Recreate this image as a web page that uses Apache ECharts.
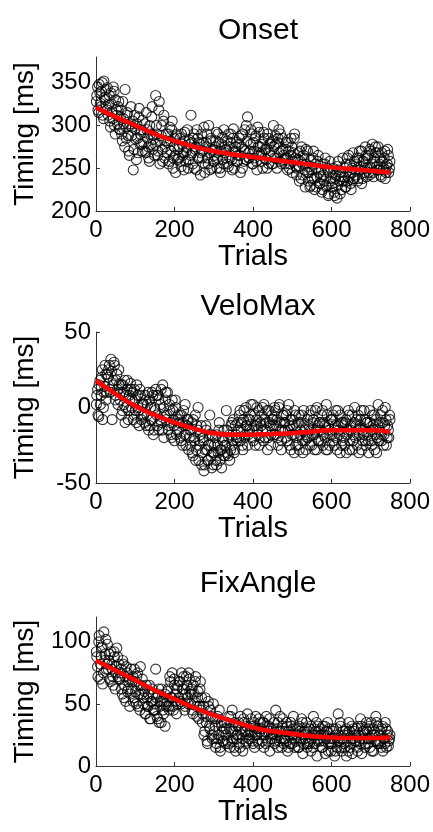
<!DOCTYPE html>
<html>
<head>
<meta charset="utf-8">
<script src="https://cdn.jsdelivr.net/npm/echarts@6/dist/echarts.min.js"></script>
<style>
  html, body { margin: 0; padding: 0; background: #fff; }
  #chart { width: 433px; height: 832px; }
</style>
</head>
<body>
<div id="chart"></div>
<script>
// trial numbers of the plotted samples (two interleaved sets)
const trials = [
  2,5,8,11,14,17,20,23,26,29, 32,35,38,41,44,47,50,53,56,59,
  62,65,68,71,74,77,80,83,86,89, 92,95,98,101,104,107,110,113,116,119,
  122,125,128,131,134,137,140,143,146,149, 152,155,158,161,164,167,170,173,176,179,
  182,185,188,191,194,197,200,203,206,209, 212,215,218,221,224,227,230,233,236,239,
  242,245,248,251,254,257,260,263,266,269, 272,275,278,281,284,287,290,293,296,299,
  302,305,308,311,314,317,320,323,326,329, 332,335,338,341,344,347,350,353,356,359,
  362,365,368,371,374,377,380,383,386,389, 392,395,398,401,404,407,410,413,416,419,
  422,425,428,431,434,437,440,443,446,449, 452,455,458,461,464,467,470,473,476,479,
  482,485,488,491,494,497,500,503,506,509, 512,515,518,521,524,527,530,533,536,539,
  542,545,548,551,554,557,560,563,566,569, 572,575,578,581,584,587,590,593,596,599,
  602,605,608,611,614,617,620,623,626,629, 632,635,638,641,644,647,650,653,656,659,
  662,665,668,671,674,677,680,683,686,689, 692,695,698,701,704,707,710,713,716,719,
  722,725,728,731,734,737,740,743,746,749
];
const trialsB = [
  1,4,7,10,13,16,19,22,25,28, 31,34,37,40,43,46,49,52,55,58,
  61,64,67,70,73,76,79,82,85,88, 91,94,97,100,103,106,109,112,115,118,
  121,124,127,130,133,136,139,142,145,148, 151,154,157,160,163,166,169,172,175,178,
  181,184,187,190,193,196,199,202,205,208, 211,214,217,220,223,226,229,232,235,238,
  241,244,247,250,253,256,259,262,265,268, 271,274,277,280,283,286,289,292,295,298,
  301,304,307,310,313,316,319,322,325,328, 331,334,337,340,343,346,349,352,355,358,
  361,364,367,370,373,376,379,382,385,388, 391,394,397,400,403,406,409,412,415,418,
  421,424,427,430,433,436,439,442,445,448, 451,454,457,460,463,466,469,472,475,478,
  481,484,487,490,493,496,499,502,505,508, 511,514,517,520,523,526,529,532,535,538,
  541,544,547,550,553,556,559,562,565,568, 571,574,577,580,583,586,589,592,595,598,
  601,604,607,610,613,616,619,622,625,628, 631,634,637,640,643,646,649,652,655,658,
  661,664,667,670,673,676,679,682,685,688, 691,694,697,700,703,706,709,712,715,718,
  721,724,727,730,733,736,739,742,745,748
];

const onset = [
  335,318,348,326,340,312,352,330,322,344, 325,305,338,316,345,300,330,312,322,296,
  310,290,328,302,342,285,315,270,300,322, 298,248,312,284,302,268,320,290,278,306,
  292,270,315,285,262,300,278,322,288,265, 335,290,270,328,282,300,258,312,275,290,
  280,255,298,270,305,262,285,245,290,272, 275,258,290,265,248,282,270,295,260,278,
  312,268,285,250,275,295,262,280,242,290, 270,298,255,280,262,300,248,285,270,258,
  265,282,250,290,270,245,278,260,295,268, 272,255,290,262,280,248,296,268,275,258,
  265,285,245,275,290,258,270,300,310,262, 270,295,255,280,262,288,248,275,292,265,
  268,250,285,272,260,290,255,278,265,282, 300,262,278,250,285,268,290,255,272,260,
  262,280,248,270,255,285,245,268,290,252, 250,268,235,258,275,242,262,228,255,270,
  245,228,260,238,270,225,250,240,265,232, 240,222,255,235,262,228,248,220,258,238,
  232,250,218,242,215,258,235,245,225,262, 240,228,255,235,265,245,225,250,238,258,
  248,262,238,270,252,232,258,245,275,240, 262,245,272,250,278,240,258,268,248,275,
  255,242,268,248,262,238,252,272,245,258
];
const onsetB = [
  328,345,315,338,322,350,308,333,342,318, 312,335,298,325,308,340,290,318,302,328,
  295,318,282,308,275,298,312,288,265,302, 288,305,272,296,260,285,310,278,295,270,
  280,302,268,295,275,258,290,310,272,285, 278,300,265,318,255,288,272,305,262,282,
  268,290,258,282,295,250,275,265,288,260, 262,285,252,278,268,292,258,274,250,283,
  265,280,255,290,272,248,285,262,278,268, 262,280,245,275,290,255,268,282,250,272,
  258,275,292,262,280,250,270,286,255,275, 262,282,252,275,290,260,285,250,270,280,
  258,278,265,288,250,272,295,260,282,268, 262,278,290,255,270,285,258,298,268,275,
  258,278,292,262,272,250,285,268,280,255, 255,275,288,262,280,295,258,270,285,265,
  255,272,262,280,250,265,275,258,285,262, 242,260,252,270,238,255,265,248,272,245,
  235,252,230,248,262,238,255,228,258,245, 232,248,225,242,255,230,250,218,245,235,
  228,245,222,238,252,230,248,220,240,235, 235,250,228,262,240,255,232,245,268,238,
  242,255,235,262,248,270,238,258,250,265, 250,265,242,270,255,245,262,275,252,268,
  248,262,240,258,250,270,245,255,265,250
];

const veloMax = [
  8,-5,15,2,20,-8,10,28,5,22, 25,12,32,-8,18,28,8,22,2,15,
  10,-5,15,2,-10,8,18,-2,5,12, 5,-8,12,-2,15,0,-12,8,-5,3,
  -5,8,-12,2,-15,5,-8,10,-18,0, 12,-5,8,-15,2,-10,15,-20,5,-8,
  10,-12,-2,-18,5,-8,-22,0,-15,-5, -10,-20,-5,-25,-12,2,-18,-8,-28,-15,
  -15,-30,-8,-22,-35,-12,0,-25,-18,-38, -20,-42,-28,-15,-35,-25,-5,-32,-18,-38,
  -25,-35,-18,-30,-10,-28,-40,-22,-15,-32, -2,-30,-20,-35,-12,-25,-8,-28,-18,-22,
  -15,-5,-22,-10,-28,-2,-18,-12,-25,-8, -8,2,-15,-22,-5,-12,0,-18,-25,-10,
  -5,-15,2,-20,-10,-28,-2,-12,-18,-8, -12,0,-18,-8,-25,2,-15,-22,-5,-10,
  -15,-5,-22,2,-12,-28,-8,-18,-2,-25, -20,-10,-28,-15,-5,-30,-12,-22,-18,-8,
  -12,-25,-2,-18,-8,-28,-15,0,-22,-10, -15,-5,-25,-10,-20,2,-28,-12,-18,-8,
  -8,-22,-15,-2,-28,-12,-18,-5,-25,-10, -20,-10,-30,-15,-5,-22,-12,-28,-18,0,
  -12,-25,-5,-18,-8,-28,-15,-2,-22,-10, -18,-30,-10,-22,-5,-15,-28,-8,-20,2,
  -15,-5,-22,-10,-18,0,-25,-12,-20,-8
];
const veloMaxB = [
  2,12,-6,18,8,25,0,14,22,10, 20,28,10,24,15,30,5,18,12,25,
  5,15,-2,10,18,0,12,-8,8,16, 0,10,-5,5,-10,8,-2,12,-8,2,
  2,-10,5,-5,10,-12,0,-8,8,-15, -2,8,-12,5,-8,12,-15,0,-5,10,
  -5,-15,2,-10,-20,-2,-12,5,-18,-8, -15,-5,-22,-10,-2,-18,-25,-12,-8,-20,
  -25,-10,-32,-20,-5,-28,-15,-35,-22,-12, -30,-22,-38,-12,-28,-35,-18,-25,-40,-30,
  -30,-20,-38,-25,-15,-35,-28,-20,-32,-25, -25,-15,-32,-18,-28,-10,-22,-30,-12,-20,
  -10,-20,-2,-15,-25,-8,-20,0,-12,-18, -15,-5,-20,2,-12,-25,-8,-15,-2,-20,
  -12,0,-22,-8,-15,-2,-20,-10,-25,-5, -8,-18,-2,-12,-20,0,-10,-28,-15,-5,
  -10,-20,-2,-15,-25,-8,-18,-12,-30,-5, -12,-25,-5,-18,-10,-22,-2,-15,-28,-20,
  -20,-5,-15,-25,-10,-18,-2,-28,-12,-22, -10,-22,-2,-18,-12,-28,-5,-15,-25,-8,
  -18,-5,-25,-12,-20,-2,-15,-30,-10,-22, -12,-25,-8,-18,-2,-28,-15,-5,-22,-10,
  -20,-8,-15,-30,-12,-2,-22,-18,-8,-25, -10,-22,-2,-15,-25,-12,-5,-18,-30,-12,
  -22,-10,-18,-2,-25,-12,-8,-20,-15,-5
];

const fixAngle = [
  88,72,105,82,95,66,108,90,78,98, 85,70,92,78,65,88,75,95,72,82,
  75,62,85,55,72,80,60,68,48,78, 68,52,78,60,72,48,65,80,58,62,
  55,42,65,48,58,38,52,62,45,50, 78,40,58,35,52,62,45,55,32,48,
  60,48,72,55,75,45,65,52,62,50, 68,52,75,58,62,48,72,55,75,60,
  58,45,65,52,72,40,60,48,68,55, 42,25,55,35,18,48,30,40,22,50,
  28,15,38,22,45,12,32,20,35,18, 30,20,40,15,28,45,22,35,12,25,
  32,18,40,25,12,35,28,20,42,22, 28,38,20,32,15,40,25,30,18,35,
  25,35,15,28,40,20,32,12,30,22, 30,18,45,25,35,20,28,15,38,22,
  22,35,12,28,18,32,25,40,15,30, 25,15,32,20,38,10,28,22,35,18,
  20,30,12,25,40,18,28,8,32,22, 25,15,32,20,10,28,35,18,22,12,
  22,30,8,25,15,42,20,32,12,28, 18,28,8,25,35,15,22,10,30,20,
  25,15,32,20,38,10,28,22,18,35, 22,30,15,35,25,12,28,40,20,32,
  25,18,30,12,22,35,15,28,20,25
];
const fixAngleB = [
  92,80,100,70,88,96,75,85,102,82, 78,90,68,82,72,92,62,80,88,70,
  70,78,58,82,65,52,75,62,70,58, 62,72,55,68,50,75,58,45,65,70,
  50,60,42,55,48,65,38,52,58,45, 45,55,38,62,48,35,52,42,58,50,
  52,62,45,68,55,48,70,58,42,65, 55,68,50,62,72,45,58,65,50,70,
  50,62,42,58,68,48,55,38,62,45, 35,48,28,40,20,52,32,45,25,38,
  22,32,18,40,25,15,35,28,20,30, 25,35,18,30,40,20,28,15,32,22,
  25,35,15,30,22,38,28,18,32,25, 22,32,28,18,35,25,30,20,38,28,
  30,20,35,25,18,32,28,38,22,26, 25,35,20,30,15,28,40,22,32,18,
  28,20,32,15,25,35,18,30,22,26, 20,30,15,28,22,35,18,25,30,15,
  28,18,32,22,15,30,25,35,20,28, 20,30,15,25,32,22,28,12,30,18,
  18,28,22,12,30,20,25,35,15,22, 25,15,30,20,12,28,18,32,22,28,
  20,30,12,25,18,32,22,28,15,30, 28,18,32,22,12,30,25,20,35,18,
  20,28,15,32,22,18,30,25,16,22
];

// fitted curves (red)
const fitTrials = [0,50,100,150,200,250,300,350,400,450,500,550,600,650,700,750];
const onsetFit = [321,310,300,290,282,275,270,266,263,260,257,254,251,249,247,245];
const veloFit = [18,9,1,-5,-10,-14,-17,-18,-18,-17.5,-17,-16,-15,-15,-15,-16];
const fixFit = [85,77,69,61,54,47,41,36,31,28,26,24,23,22.5,22.5,23];

const panelTitles = ['Onset', 'VeloMax', 'FixAngle'];
const xTicks = [0, 200, 400, 600, 800];
const yTicks = [[200, 250, 300, 350], [-50, 0, 50], [0, 50, 100]];
const yRanges = [[200, 380], [-50, 50], [0, 120]];
const scatterA = [onset, veloMax, fixAngle];
const scatterB = [onsetB, veloMaxB, fixAngleB];
const fitData = [onsetFit, veloFit, fixFit];

const FONT = 'Liberation Sans, Arial, sans-serif';
const grids = [
  { left: 96, right: 22, top: 57, height: 154 },
  { left: 96, right: 22, top: 332, height: 151 },
  { left: 96, right: 22, top: 617, height: 149 }
];
const titleTops = [11, 287, 564];

const pair = (xs, ys) => ys.map((y, i) => [xs[i], y]);

const scatterStyle = { color: 'rgba(0,0,0,0)', borderColor: '#000', borderWidth: 1.1 };

const chart = echarts.init(document.getElementById('chart'));
const option = {
  animation: false,
  backgroundColor: '#fff',
  title: panelTitles.map((t, i) => ({
    text: t,
    left: 253,
    textAlign: 'center',
    top: titleTops[i],
    textStyle: { fontFamily: FONT, fontSize: 30, fontWeight: 'normal', color: '#000' }
  })),
  grid: grids,
  xAxis: grids.map((g, i) => ({
    gridIndex: i,
    type: 'value',
    min: 0, max: 800,
    name: 'Trials',
    nameLocation: 'middle',
    nameGap: 31,
    nameTextStyle: { fontFamily: FONT, fontSize: 29, color: '#000' },
    axisLine: { onZero: false, lineStyle: { color: '#333', width: 1 } },
    axisTick: { inside: true, length: 4, lineStyle: { color: '#333' }, customValues: xTicks },
    axisLabel: { fontFamily: FONT, fontSize: 24, color: '#000', margin: 7, customValues: xTicks },
    splitLine: { show: false }
  })),
  yAxis: grids.map((g, i) => ({
    gridIndex: i,
    type: 'value',
    min: yRanges[i][0], max: yRanges[i][1],
    name: 'Timing [ms]',
    nameLocation: 'middle',
    nameGap: 57,
    nameTextStyle: { fontFamily: FONT, fontSize: 28, color: '#000' },
    axisLine: { show: true, onZero: false, lineStyle: { color: '#333', width: 1 } },
    axisTick: { show: true, inside: true, length: 4, lineStyle: { color: '#333' }, customValues: yTicks[i] },
    axisLabel: { fontFamily: FONT, fontSize: 24, color: '#000', margin: 5, customValues: yTicks[i] },
    splitLine: { show: false }
  })),
  series: [
    ...scatterA.map((ys, i) => ({
      type: 'scatter',
      xAxisIndex: i, yAxisIndex: i,
      symbol: 'circle',
      symbolSize: 10,
      itemStyle: scatterStyle,
      data: pair(trials, ys),
      z: 2
    })),
    ...scatterB.map((ys, i) => ({
      type: 'scatter',
      xAxisIndex: i, yAxisIndex: i,
      symbol: 'circle',
      symbolSize: 10,
      itemStyle: scatterStyle,
      data: pair(trialsB, ys),
      z: 2
    })),
    ...fitData.map((ys, i) => ({
      type: 'line',
      xAxisIndex: i, yAxisIndex: i,
      smooth: true,
      showSymbol: false,
      lineStyle: { color: '#ff0000', width: 4.5 },
      data: pair(fitTrials, ys),
      z: 5
    }))
  ]
};
chart.setOption(option);
</script>
</body>
</html>
